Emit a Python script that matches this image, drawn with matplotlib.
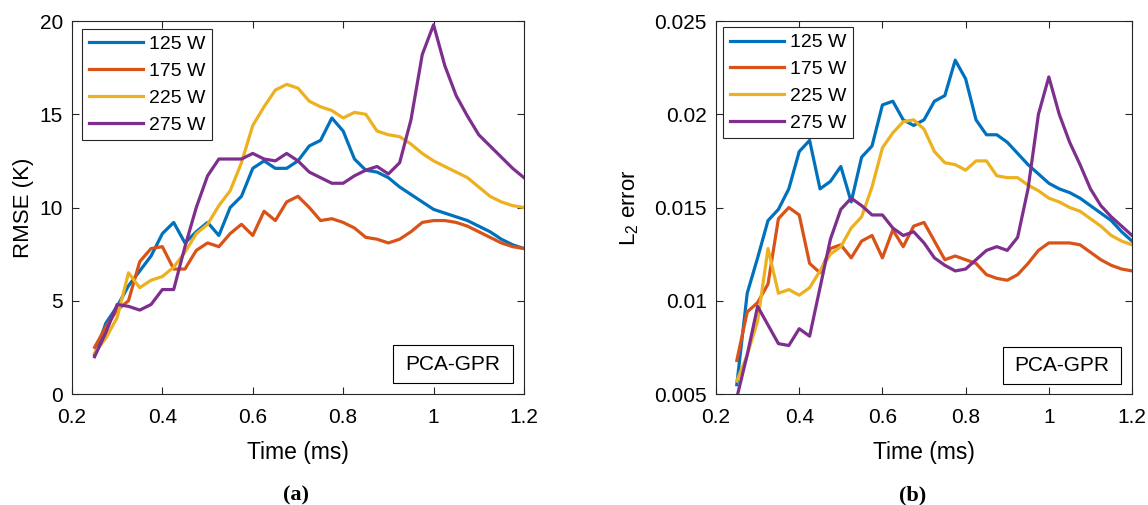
import numpy as np
import matplotlib
matplotlib.use("Agg")
import matplotlib.pyplot as plt
from matplotlib.patches import Rectangle

plt.rcParams['font.family'] = ['Liberation Sans', 'DejaVu Sans']
plt.rcParams['mathtext.fontset'] = 'custom'
plt.rcParams['mathtext.rm'] = 'Liberation Sans'
plt.rcParams['mathtext.it'] = 'Liberation Sans:italic'

time = np.arange(39) * 0.025 + 0.25   # ms, 0.25 ... 1.2

labels = ['125 W', '175 W', '225 W', '275 W']
colors = ['#0072BD', '#D95319', '#EDB120', '#7E2F8E']

# (a) RMSE (K)
rmse_125 = [2.1, 3.8, 4.7, 5.8, 6.6, 7.4, 8.6, 9.2, 8.1, 8.7, 9.2, 8.5, 10.0,
            10.6, 12.1, 12.5, 12.1, 12.1, 12.5, 13.3, 13.6, 14.8, 14.1, 12.6,
            12.0, 11.9, 11.6, 11.1, 10.7, 10.3, 9.9, 9.7, 9.5, 9.3, 9.0, 8.7,
            8.3, 8.0, 7.8]
rmse_175 = [2.5, 3.6, 4.5, 5.0, 7.1, 7.8, 7.9, 6.7, 6.7, 7.7, 8.1, 7.9, 8.6,
            9.1, 8.5, 9.8, 9.3, 10.3, 10.6, 10.0, 9.3, 9.4, 9.2, 8.9, 8.4,
            8.3, 8.1, 8.3, 8.7, 9.2, 9.3, 9.3, 9.2, 9.0, 8.7, 8.4, 8.1, 7.9,
            7.8]
rmse_225 = [2.2, 3.0, 4.1, 6.5, 5.7, 6.1, 6.3, 6.8, 7.6, 8.6, 9.1, 10.1, 10.9,
            12.4, 14.4, 15.4, 16.3, 16.6, 16.4, 15.7, 15.4, 15.2, 14.8, 15.1,
            15.0, 14.1, 13.9, 13.8, 13.4, 12.9, 12.5, 12.2, 11.9, 11.6, 11.1,
            10.6, 10.3, 10.1, 10.0]
rmse_275 = [2.0, 3.3, 4.8, 4.7, 4.5, 4.8, 5.6, 5.6, 7.9, 10.0, 11.7, 12.6,
            12.6, 12.6, 12.9, 12.6, 12.5, 12.9, 12.5, 11.9, 11.6, 11.3, 11.3,
            11.7, 12.0, 12.2, 11.8, 12.4, 14.7, 18.2, 19.8, 17.6, 16.0, 14.9,
            13.9, 13.3, 12.7, 12.1, 11.6]

# (b) L2 error
l2_125 = [0.0055, 0.0104, 0.0123, 0.0143, 0.0149, 0.0160, 0.0180, 0.0186,
          0.0160, 0.0164, 0.0172, 0.0153, 0.0177, 0.0183, 0.0205, 0.0207,
          0.0197, 0.0194, 0.0197, 0.0207, 0.0210, 0.0229, 0.0219, 0.0197,
          0.0189, 0.0189, 0.0185, 0.0179, 0.0173, 0.0168, 0.0163, 0.0160,
          0.0158, 0.0155, 0.0151, 0.0147, 0.0143, 0.0137, 0.0132]
l2_175 = [0.0068, 0.0094, 0.0099, 0.0109, 0.0144, 0.0150, 0.0146, 0.0120,
          0.0115, 0.0128, 0.0130, 0.0123, 0.0132, 0.0135, 0.0123, 0.0138,
          0.0129, 0.0140, 0.0142, 0.0132, 0.0122, 0.0124, 0.0122, 0.0120,
          0.0114, 0.0112, 0.0111, 0.0114, 0.0120, 0.0127, 0.0131, 0.0131,
          0.0131, 0.0130, 0.0126, 0.0122, 0.0119, 0.0117, 0.0116]
l2_225 = [0.0057, 0.0071, 0.0089, 0.0128, 0.0104, 0.0106, 0.0103, 0.0107,
          0.0116, 0.0125, 0.0129, 0.0139, 0.0145, 0.0161, 0.0182, 0.0190,
          0.0196, 0.0197, 0.0192, 0.0180, 0.0174, 0.0173, 0.0170, 0.0175,
          0.0175, 0.0167, 0.0166, 0.0166, 0.0162, 0.0159, 0.0155, 0.0153,
          0.0150, 0.0148, 0.0144, 0.0140, 0.0135, 0.0132, 0.0130]
l2_275 = [0.0048, 0.0071, 0.0097, 0.0087, 0.0077, 0.0076, 0.0085, 0.0081,
          0.0107, 0.0133, 0.0149, 0.0155, 0.0151, 0.0146, 0.0146, 0.0139,
          0.0135, 0.0137, 0.0131, 0.0123, 0.0119, 0.0116, 0.0117, 0.0122,
          0.0127, 0.0129, 0.0127, 0.0134, 0.0160, 0.0200, 0.0220, 0.0200,
          0.0185, 0.0173, 0.0160, 0.0151, 0.0145, 0.0140, 0.0135]

edge = '#262626'
fig = plt.figure(figsize=(11.48, 5.05), dpi=100)
ax_a = fig.add_axes([0.0627, 0.2198, 0.3937, 0.7386])
ax_b = fig.add_axes([0.6237, 0.2198, 0.3624, 0.7386])

panels = [
    (ax_a, [rmse_125, rmse_175, rmse_225, rmse_275], 'RMSE (K)',
     (0, 20), [0, 5, 10, 15, 20], None, (0.022, 0.979), (0.710, 0.029, 0.266, 0.102)),
    (ax_b, [l2_125, l2_175, l2_225, l2_275], r'L$_{\mathregular{2}}$ error',
     (0.005, 0.025), [0.005, 0.01, 0.015, 0.02, 0.025],
     ['0.005', '0.01', '0.015', '0.02', '0.025'], (0.017, 0.984), (0.690, 0.027, 0.284, 0.099)),
]

for ax, series, ylab, ylim, yticks, yticklabels, leg_pos, box in panels:
    for y, c, lab in zip(series, colors, labels):
        ax.plot(time, y, color=c, lw=2.3, label=lab)
    ax.set_xlim(0.2, 1.2)
    ax.set_ylim(*ylim)
    ax.set_xticks([0.2, 0.4, 0.6, 0.8, 1.0, 1.2])
    ax.set_xticklabels(['0.2', '0.4', '0.6', '0.8', '1', '1.2'])
    ax.set_yticks(yticks)
    if yticklabels is not None:
        ax.set_yticklabels(yticklabels)
    ax.tick_params(direction='in', top=True, right=True, length=5,
                   width=0.8, color=edge, labelsize=15, labelcolor='black')
    ax.tick_params(axis='x', pad=10)
    ax.tick_params(axis='y', pad=6.5)
    for s in ax.spines.values():
        s.set_color(edge)
        s.set_linewidth(0.8)
    ax.set_xlabel('Time (ms)', fontsize=16.5, labelpad=10)
    ax.set_ylabel(ylab, fontsize=16)
    leg = ax.legend(loc='upper left', bbox_to_anchor=leg_pos, borderaxespad=0,
                    fontsize=14, handlelength=2.8, handletextpad=0.3,
                    labelspacing=0.47, borderpad=0.35, fancybox=False,
                    framealpha=1, edgecolor=edge)
    leg.get_frame().set_linewidth(0.8)
    bx, by, bw, bh = box
    ax.add_patch(Rectangle((bx, by), bw, bh, transform=ax.transAxes,
                           facecolor='white', edgecolor='black', lw=0.8,
                           zorder=5))
    ax.text(bx + bw / 2, by + bh / 2, 'PCA-GPR', transform=ax.transAxes,
            ha='center', va='center', fontsize=15, zorder=6)

ax_a.yaxis.set_label_coords(-0.085, 0.5)
ax_b.yaxis.set_label_coords(-0.18, 0.5)

fig.text(296 / 1148, 1 - 495 / 505, '(a)', ha='center', va='center',
         fontsize=16, fontweight='bold', family='Liberation Serif')
fig.text(913 / 1148, 1 - 495 / 505, '(b)', ha='center', va='center',
         fontsize=16, fontweight='bold', family='Liberation Serif')

fig.savefig('out.png', dpi=100)
